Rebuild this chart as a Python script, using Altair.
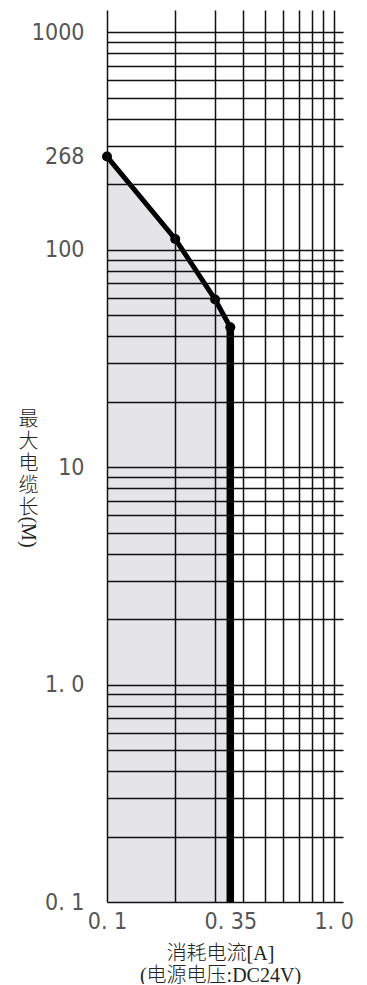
import altair as alt
import pandas as pd

# ---- data ----
current_a = [0.1, 0.2, 0.3, 0.35]          # 消耗电流[A]
length_m = [268, 112, 59, 44]              # 最大电缆长(M)
drop_current = [0.35]                      # vertical limit line
drop_top = [44]
drop_bottom = [0.1]

x_grid = [0.1, 0.2, 0.3, 0.4, 0.5, 0.6, 0.7, 0.8, 0.9, 1.0]
x_label_values = [0.1, 0.35, 1.0]
x_label_texts = ["0. 1", "0. 35", "1. 0"]

y_grid = [0.1, 0.2, 0.3, 0.4, 0.5, 0.6, 0.7, 0.8, 0.9,
          1, 2, 3, 4, 5, 6, 7, 8, 9,
          10, 20, 30, 40, 50, 60, 70, 80, 90,
          100, 200, 300, 400, 500, 600, 700, 800, 900,
          1000]
y_label_values = [1000, 268, 100, 10, 1, 0.1]
y_label_texts = ["1000", "268", "100", "10", "1. 0", "0. 1"]

x_title = ["消耗电流[A]", "(电源电压:DC24V)"]
y_title_chars = ["最", "大", "电", "缆", "长"]
y_title_tail = ["(M)"]

x_domain = [0.1, 1.1]
y_domain = [0.1, 1265]

# ---- helpers ----
def label_expr(values, texts):
    expr = "''"
    for v, t in reversed(list(zip(values, texts))):
        expr = f"datum.value == {v} ? '{t}' : {expr}"
    return expr

def hide_grid(values, grid):
    extra = [v for v in values if v not in grid]
    if not extra:
        return 1
    test = " || ".join(f"datum.value == {v}" for v in extra)
    return {"condition": {"test": test, "value": 0}, "value": 1}

LABEL_FONT = "Liberation Sans Narrow, DejaVu Sans Condensed, Roboto, sans-serif"
TITLE_FONT = "Liberation Serif, Noto Sans CJK SC, serif"

x_vals = sorted(set(x_grid + x_label_values))
y_vals = sorted(set(y_grid + y_label_values))

x_scale = alt.Scale(type="log", domain=x_domain, nice=False)
y_scale = alt.Scale(type="log", domain=y_domain, nice=False)

x_axis = alt.Axis(
    values=x_vals, labelExpr=label_expr(x_label_values, x_label_texts),
    grid=True, gridColor="#111111", gridWidth=1.5, gridOpacity=hide_grid(x_label_values, x_grid),
    ticks=False, domain=False, labelOverlap=False, labelFlush=False, labelBound=False,
    labelFont=LABEL_FONT, labelFontSize=23, labelFontWeight=300, labelColor="#555555",
    labelPadding=8,
    title=x_title, titleFont=TITLE_FONT, titleFontSize=20, titleFontWeight=300,
    titleColor="#222222", titleLineHeight=22, titleX=113, titleY=41,
    titleAlign="center", titleBaseline="top", zindex=1,
)
y_axis = alt.Axis(
    values=y_vals, labelExpr=label_expr(y_label_values, y_label_texts),
    grid=True, gridColor="#111111", gridWidth=1.5, gridOpacity=hide_grid(y_label_values, y_grid),
    ticks=False, domain=False, labelOverlap=False, labelBound=False,
    labelFont=LABEL_FONT, labelFontSize=23, labelFontWeight=300, labelColor="#555555",
    labelPadding=23, labelBaseline="middle",
    title=y_title_chars, titleFont=TITLE_FONT, titleFontSize=20, titleFontWeight=300,
    titleColor="#222222", titleLineHeight=22, titleAngle=0, titleX=-79, titleY=399,
    titleAlign="center", titleBaseline="top", zindex=1,
)

curve = pd.DataFrame({"current": current_a, "length": length_m})
drop = pd.DataFrame({"current": drop_current, "top": drop_top, "bottom": drop_bottom})
tail = pd.DataFrame({"t": y_title_tail})

area = alt.Chart(curve).mark_area(color="#e5e5e7", opacity=1).encode(
    x=alt.X("current:Q", scale=x_scale, axis=x_axis),
    y=alt.Y("length:Q", scale=y_scale, axis=y_axis),
    y2=alt.datum(drop_bottom[0]),
)
line = alt.Chart(curve).mark_line(color="black", strokeWidth=5).encode(
    x="current:Q", y="length:Q"
)
pts = alt.Chart(curve).mark_circle(color="black", size=100, opacity=1).encode(
    x="current:Q", y="length:Q"
)
rule = alt.Chart(drop).mark_rule(color="black", strokeWidth=7.5).encode(
    x="current:Q", y="top:Q", y2="bottom:Q"
)
tail_text = alt.Chart(tail).mark_text(
    angle=90, font=TITLE_FONT, fontSize=20, fontWeight=300, color="#222222",
    align="center", baseline="middle"
).encode(x=alt.value(-79), y=alt.value(522), text="t:N")

chart = alt.layer(area, line, rule, pts, tail_text).properties(
    width=236, height=892,
    autosize=alt.AutoSizeParams(type="none"),
    padding={"left": 99, "top": 2, "right": 14, "bottom": 82},
).configure_view(stroke=None)

chart.save("out.html", embed_options={"renderer": "svg", "actions": False})
